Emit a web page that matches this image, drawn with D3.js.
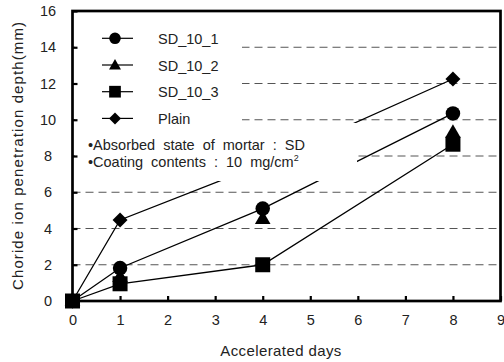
<!DOCTYPE html>
<html>
<head>
<meta charset="utf-8">
<script src="https://cdn.jsdelivr.net/npm/d3@7"></script>
<style>
  body { margin: 0; background: #fff; }
  text { font-family: "Liberation Sans", Arial, sans-serif; fill: #222; }
</style>
</head>
<body>
<svg id="chart" width="504" height="362"></svg>
<script>
// Data
const days = [0, 1, 4, 8];
const sd_10_1 = [0, 1.82, 5.1, 10.35];
const sd_10_2 = [0, 1.3, 4.5, 9.25];
const sd_10_3 = [0, 0.95, 2.0, 8.65];
const plain = [0, 4.47, 7.55, 12.25];
const seriesNames = ['SD_10_1', 'SD_10_2', 'SD_10_3', 'Plain'];
const xTicks = [0, 1, 2, 3, 4, 5, 6, 7, 8, 9];
const yTicks = [0, 2, 4, 6, 8, 10, 12, 14, 16];
const gridValues = [2, 4, 6, 8, 10, 12, 14];
const notes = ['Absorbed state of mortar : SD', 'Coating contents : 10 mg/cm'];

const width = 504;
const height = 362;
const margin = { top: 11, right: 3.5, bottom: 61, left: 72.5 };

// marker style per series (SD_10_2 has no connecting line in the figure)
const styles = {
  'SD_10_1': { symbol: d3.symbolCircle, size: 165, legendSize: 106, rotate: 0, line: true },
  'SD_10_2': { symbol: d3.symbolTriangle, size: 105, legendSize: 62, rotate: 0, line: false },
  'SD_10_3': { symbol: d3.symbolSquare, size: 225, legendSize: 137, rotate: 0, line: true },
  'Plain':   { symbol: d3.symbolSquare, size: 112, legendSize: 72, rotate: 45, line: true }
};

const seriesValues = [sd_10_1, sd_10_2, sd_10_3, plain];
const series = seriesNames.map((name, i) => ({
  name: name,
  points: days.map((d, j) => ({ x: d, y: seriesValues[i][j] }))
}));

function Draw_Chart() {
  const svg = d3.select('#chart');

  const x = d3.scaleLinear()
    .domain([0, 9])
    .range([margin.left, width - margin.right]);

  const y = d3.scaleLinear()
    .domain([0, 16])
    .range([height - margin.bottom, margin.top]);

  // Dashed grid lines
  svg.append('g')
    .selectAll('line')
    .data(gridValues)
    .enter()
    .append('line')
    .attr('x1', x(0))
    .attr('x2', x(9))
    .attr('y1', d => y(d))
    .attr('y2', d => y(d))
    .attr('stroke', '#555')
    .attr('stroke-width', 1)
    .attr('stroke-dasharray', '8,5');

  // Series lines
  const line = d3.line()
    .x(d => x(d.x))
    .y(d => y(d.y));

  svg.append('g')
    .selectAll('path')
    .data(series.filter(s => styles[s.name].line))
    .enter()
    .append('path')
    .attr('d', d => line(d.points))
    .attr('fill', 'none')
    .attr('stroke', '#000')
    .attr('stroke-width', 1.3);

  // Markers (drawn so that the square ends up on top)
  const drawOrder = ['Plain', 'SD_10_2', 'SD_10_1', 'SD_10_3'];
  drawOrder.forEach(name => {
    const s = series.find(d => d.name === name);
    const st = styles[name];
    svg.append('g')
      .selectAll('path')
      .data(s.points)
      .enter()
      .append('path')
      .attr('d', d3.symbol().type(st.symbol).size(st.size))
      .attr('transform', d => `translate(${x(d.x)},${y(d.y)}) rotate(${st.rotate})`)
      .attr('fill', '#000');
  });

  // White boxes behind legend and note (they hide parts of the lines)
  svg.append('rect')
    .attr('x', 75).attr('y', 14)
    .attr('width', 167).attr('height', 110)
    .attr('fill', '#fff');
  svg.append('rect')
    .attr('x', 75).attr('y', 123)
    .attr('width', 282).attr('height', 58)
    .attr('fill', '#fff');

  // Legend
  const legend = svg.append('g')
    .selectAll('g')
    .data(seriesNames)
    .enter()
    .append('g')
    .attr('transform', (d, i) => `translate(0,${38.3 + i * 26.7})`);

  legend.append('line')
    .attr('x1', 102).attr('x2', 133)
    .attr('stroke', '#000')
    .attr('stroke-width', 1.2);

  legend.append('path')
    .attr('d', d => d3.symbol().type(styles[d].symbol).size(styles[d].legendSize)())
    .attr('transform', d => `translate(115,${styles[d].symbol === d3.symbolTriangle ? 1 : 0}) rotate(${styles[d].rotate})`)
    .attr('fill', '#000');

  legend.append('text')
    .attr('x', 158)
    .attr('y', 5.5)
    .style('font-size', '14.5px')
    .text(d => d);

  // Notes
  const note = svg.append('g')
    .selectAll('text')
    .data(notes)
    .enter()
    .append('text')
    .attr('x', 88)
    .attr('y', (d, i) => 150 + i * 17)
    .style('font-size', '14.5px')
    .style('word-spacing', '4px')
    .text(d => '\u2022' + d);

  note.filter((d, i) => i === 1)
    .append('tspan')
    .attr('dy', -6)
    .style('font-size', '9px')
    .text('2');

  // Axes
  svg.append('g')
    .attr('transform', `translate(0,${y(0)})`)
    .call(d3.axisBottom(x).tickValues(xTicks).tickSize(-5).tickPadding(14).tickFormat(d3.format('d')))
    .call(g => g.select('.domain').remove())
    .call(g => g.selectAll('.tick line').attr('stroke', '#000').attr('stroke-width', 2.2))
    .call(g => g.selectAll('.tick text').style('font-size', '14.5px').style('font-family', '"Liberation Sans", Arial, sans-serif').attr('fill', '#222'));

  svg.append('g')
    .attr('transform', `translate(${x(0)},0)`)
    .call(d3.axisLeft(y).tickValues(yTicks).tickSize(-5).tickPadding(0).tickFormat(d3.format('d')))
    .call(g => g.select('.domain').remove())
    .call(g => g.selectAll('.tick line').attr('stroke', '#000').attr('stroke-width', 2.2))
    .call(g => g.selectAll('.tick text')
      .attr('x', 48 - x(0))
      .attr('text-anchor', 'middle')
      .style('font-size', '14.5px')
      .style('font-family', '"Liberation Sans", Arial, sans-serif')
      .attr('fill', '#222'));

  // Frame
  svg.append('rect')
    .attr('x', x(0))
    .attr('y', y(16))
    .attr('width', x(9) - x(0))
    .attr('height', y(0) - y(16))
    .attr('fill', 'none')
    .attr('stroke', '#000')
    .attr('stroke-width', 2.7);

  // Axis titles
  svg.append('text')
    .attr('x', 281)
    .attr('y', 356)
    .style('text-anchor', 'middle')
    .style('font-size', '15px')
    .style('letter-spacing', '0.4px')
    .text('Accelerated days');

  svg.append('text')
    .attr('transform', 'translate(23,290) rotate(-90)')
    .attr('textLength', 268)
    .style('font-size', '15px')
    .text('Choride ion penetration depth(mm)');
}

Draw_Chart();
</script>
</body>
</html>
